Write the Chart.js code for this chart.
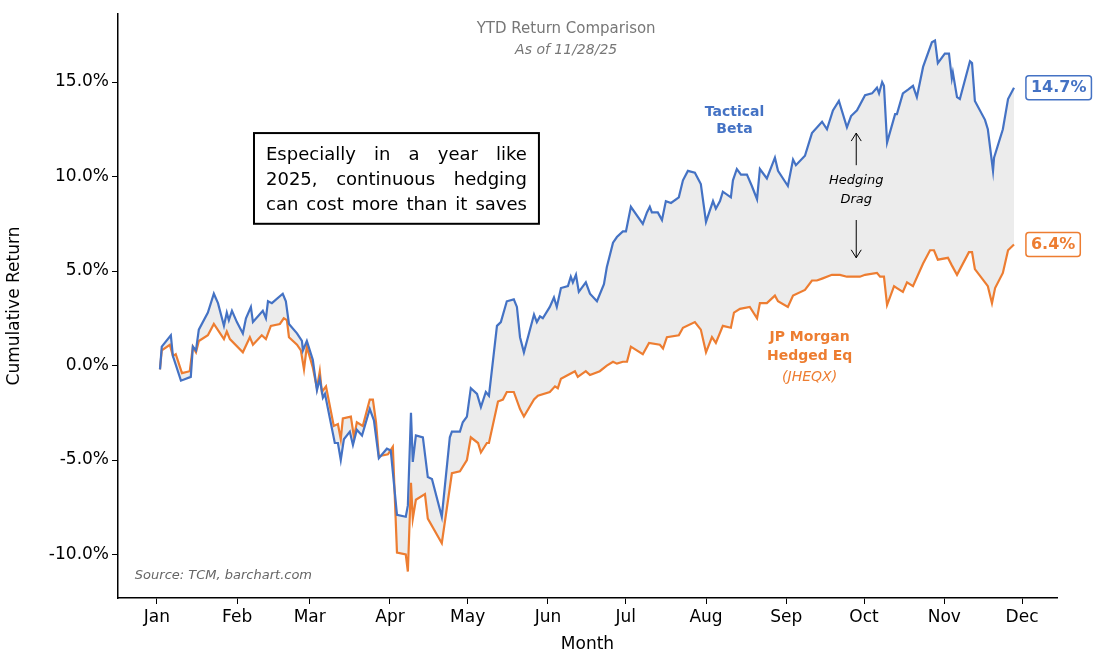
<!DOCTYPE html>
<html>
<head>
  <title>YTD Return Comparison</title>
  <script src="https://cdn.jsdelivr.net/npm/chart.js"></script>
</head>
<body style="margin:0; background:white;">
  <canvas id="c" width="1105" height="659"></canvas>
  <script>
    // day of year (Jan 1 = 0) and cumulative return in %
    const betaDays = [1.2,1.9,5.4,6.2,9.3,13.1,13.9,15.1,16.2,19.7,22.0,23.6,25.9,27.0,27.8,29.0,30.9,33.2,34.4,36.3,37.1,40.9,42.1,42.9,44.4,48.6,49.8,51.0,54.1,56.0,56.4,57.9,60.2,61.8,62.9,64.1,64.9,68.7,69.9,71.0,72.2,74.5,75.7,77.2,79.2,82.2,83.8,85.7,88.8,90.3,92.7,96.1,96.9,98.1,98.8,100.0,102.7,104.6,106.2,110.0,113.1,113.9,117.0,118.1,119.7,121.2,123.6,125.1,127.0,128.2,131.3,132.8,135.1,137.8,139.0,140.2,141.7,145.6,146.7,147.9,149.0,151.7,153.3,154.4,156.0,158.7,159.8,160.6,161.8,162.9,165.6,167.2,169.9,172.6,173.7,176.1,177.6,179.9,181.1,183.0,187.6,189.2,190.3,191.1,193.4,195.0,196.5,198.5,201.5,203.1,205.0,207.7,210.0,212.0,214.7,215.8,217.4,218.5,221.6,222.4,223.9,225.5,227.8,229.7,231.7,232.8,235.5,238.6,239.8,243.6,245.6,246.7,250.2,252.9,256.8,258.7,261.0,263.3,266.4,268.0,270.3,273.4,276.1,278.0,278.8,280.0,280.7,281.9,285.0,285.7,288.0,290.0,291.9,293.4,295.8,299.2,300.4,301.5,304.2,305.8,306.9,307.3,308.9,310.0,313.9,314.7,315.8,319.7,320.8,322.8,323.2,326.6,328.6,330.9];
    const betaValues = [-0.2,1.0,1.6,0.5,-0.8,-0.6,1.0,0.8,1.9,2.8,3.8,3.3,2.1,2.8,2.4,2.9,2.3,1.7,2.5,3.1,2.3,2.9,2.5,3.4,3.3,3.8,3.4,2.2,1.7,1.3,0.8,1.3,0.3,-1.3,-0.7,-1.7,-1.5,-4.1,-4.1,-5.0,-3.9,-3.5,-4.2,-3.4,-3.7,-2.3,-2.9,-4.9,-4.4,-4.5,-7.9,-8.0,-7.4,-2.5,-5.1,-3.7,-3.8,-5.9,-6.0,-8.0,-3.8,-3.5,-3.5,-3.0,-2.7,-1.2,-1.5,-2.2,-1.4,-1.6,2.1,2.3,3.4,3.5,3.1,1.5,0.7,2.7,2.3,2.6,2.5,3.1,3.6,3.1,4.1,4.2,4.7,4.4,4.8,3.9,4.4,3.8,3.4,4.3,5.2,6.5,6.8,7.1,7.1,8.4,7.5,8.1,8.4,8.1,8.1,7.7,8.7,8.6,8.9,9.8,10.3,10.2,9.6,7.6,8.7,8.3,8.7,9.2,8.9,9.8,10.4,10.1,10.1,9.5,8.8,10.4,9.9,11.0,10.3,9.5,10.9,10.6,11.1,12.3,12.9,12.5,13.5,14.0,12.6,13.2,13.5,14.3,14.4,14.7,14.4,15.0,14.8,11.8,13.3,13.3,14.4,14.6,14.8,14.2,15.8,17.1,17.2,16.0,16.5,16.5,15.2,15.5,14.2,14.1,16.1,16.0,14.0,13.0,12.5,10.3,11.0,12.5,14.1,14.7];

    const hedgedDays = [1.2,1.9,5.0,6.2,7.3,9.7,12.7,13.9,15.1,16.2,19.7,22.0,25.9,27.0,28.2,33.2,35.9,37.1,40.5,42.1,44.0,47.5,49.0,50.2,51.0,54.1,55.6,56.8,57.9,60.2,61.8,62.9,63.7,65.3,68.3,69.9,71.0,71.8,74.9,76.1,77.2,79.5,82.2,83.4,84.6,85.7,89.2,91.1,92.7,96.1,96.9,98.1,98.8,100.0,103.5,104.6,110.0,113.9,117.0,119.7,121.2,124.0,125.1,127.4,128.2,131.7,133.6,135.1,137.8,140.2,141.7,145.6,147.1,151.7,153.7,154.8,156.0,158.7,161.4,162.5,165.6,167.2,171.0,173.7,176.1,177.6,179.9,181.5,183.0,187.6,190.0,194.2,195.4,196.9,201.5,203.1,207.7,210.0,212.0,214.3,215.8,218.5,221.6,222.8,225.1,228.9,231.7,232.8,235.5,238.6,239.8,243.6,245.6,250.2,252.9,254.8,256.8,260.6,263.7,266.4,271.4,273.4,278.0,279.2,280.7,281.9,284.6,285.7,288.0,289.6,291.9,295.8,298.5,300.0,301.5,305.4,306.9,308.9,313.5,314.7,315.8,319.7,320.8,322.4,323.6,326.6,328.6,330.9];
    const hedgedValues = [-0.2,0.8,1.1,0.5,0.6,-0.4,-0.3,1.0,0.7,1.3,1.6,2.2,1.4,1.8,1.4,0.7,1.5,1.1,1.6,1.4,2.1,2.2,2.5,2.4,1.5,1.1,0.8,-0.2,1.0,-0.1,-1.2,-0.3,-1.4,-1.1,-3.2,-3.1,-3.9,-2.8,-2.7,-3.8,-3.0,-3.2,-1.8,-1.8,-3.0,-4.8,-4.7,-4.3,-9.9,-10.0,-10.9,-6.2,-8.1,-7.1,-6.8,-8.1,-9.4,-5.7,-5.6,-5.0,-3.8,-4.1,-4.6,-4.1,-4.1,-1.9,-1.8,-1.4,-1.4,-2.3,-2.7,-1.8,-1.6,-1.4,-1.1,-1.2,-0.7,-0.5,-0.3,-0.6,-0.3,-0.5,-0.3,0.0,0.2,0.1,0.2,0.2,1.0,0.6,1.2,1.1,0.9,1.5,1.6,2.0,2.3,1.9,0.7,1.5,1.2,2.1,2.0,2.8,3.0,3.1,2.5,3.3,3.3,3.7,3.4,3.1,3.7,4.0,4.5,4.5,4.6,4.8,4.8,4.7,4.7,4.8,4.9,4.7,4.7,3.2,4.2,4.1,3.9,4.4,4.2,5.4,6.1,6.1,5.6,5.7,5.3,4.8,6.0,6.0,5.1,4.4,4.2,3.3,4.1,4.9,6.1,6.4];

    const monthLabels = ['Jan','Feb','Mar','Apr','May','Jun','Jul','Aug','Sep','Oct','Nov','Dec'];
    const monthStarts = [0,31,59,90,120,151,181,212,243,273,304,334];
    const yTicks = [-10,-5,0,5,10,15];

    const BLUE = '#4472c4', ORANGE = '#ed7d31';
    const toPts = (d, v) => d.map((x, i) => ({ x: x, y: v[i] }));

    function text(ctx, s, x, y, font, color, align) {
      ctx.font = font; ctx.fillStyle = color;
      ctx.textAlign = align || 'center'; ctx.textBaseline = 'middle';
      ctx.fillText(s, x, y);
    }
    function roundBox(ctx, x, y, w, h, r, color) {
      ctx.beginPath(); ctx.roundRect(x, y, w, h, r);
      ctx.fillStyle = 'white'; ctx.fill();
      ctx.strokeStyle = color; ctx.lineWidth = 1.5; ctx.stroke();
    }
    function arrow(ctx, x, y1, y2) {
      const dir = y2 > y1 ? 1 : -1;
      ctx.strokeStyle = '#000'; ctx.lineWidth = 1;
      ctx.beginPath(); ctx.moveTo(x, y1); ctx.lineTo(x, y2);
      ctx.moveTo(x - 5, y2 - dir * 8); ctx.lineTo(x, y2); ctx.lineTo(x + 5, y2 - dir * 8);
      ctx.stroke();
    }

    const notes = {
      id: 'notes',
      afterDatasetsDraw(chart) {
        const ctx = chart.ctx, xs = chart.scales.x, ys = chart.scales.y;
        const X = d => xs.getPixelForValue(d), Y = v => ys.getPixelForValue(v);
        ctx.save();
        text(ctx, 'YTD Return Comparison', X(158), Y(17.8), '15px "DejaVu Sans"', '#777');
        text(ctx, 'As of 11/28/25', X(158), Y(16.7), 'italic 14px "DejaVu Sans"', '#777');

        // message box, justified lines
        const bx = X(37.5), by = Y(12.3), bw = X(147.5) - bx, bh = Y(7.5) - by;
        ctx.fillStyle = 'white'; ctx.fillRect(bx, by, bw, bh);
        ctx.strokeStyle = '#000'; ctx.lineWidth = 2; ctx.strokeRect(bx, by, bw, bh);
        ctx.font = '18px "DejaVu Sans"'; ctx.fillStyle = '#000';
        ctx.textBaseline = 'middle'; ctx.textAlign = 'left';
        const lines = [['Especially','in','a','year','like'], ['2025,','continuous','hedging'], ['can','cost','more','than','it','saves']];
        lines.forEach((ws, i) => {
          const ly = by + 22 + i * 25;
          const tw = ws.reduce((s, w) => s + ctx.measureText(w).width, 0);
          const gap = (bw - 24 - tw) / (ws.length - 1);
          let cx = bx + 12;
          ws.forEach(w => { ctx.fillText(w, cx, ly); cx += ctx.measureText(w).width + gap; });
        });

        text(ctx, 'Tactical', X(223), Y(13.4), 'bold 14px "DejaVu Sans"', BLUE);
        text(ctx, 'Beta', X(223), Y(12.5), 'bold 14px "DejaVu Sans"', BLUE);
        text(ctx, 'JP Morgan', X(252), Y(1.5), 'bold 14px "DejaVu Sans"', ORANGE);
        text(ctx, 'Hedged Eq', X(252), Y(0.5), 'bold 14px "DejaVu Sans"', ORANGE);
        text(ctx, '(JHEQX)', X(252), Y(-0.6), 'italic 14px "DejaVu Sans"', ORANGE);

        text(ctx, 'Hedging', X(270), Y(9.8), 'italic 13px "DejaVu Sans"', '#000');
        text(ctx, 'Drag', X(270), Y(8.8), 'italic 13px "DejaVu Sans"', '#000');
        arrow(ctx, X(270), Y(10.6), Y(12.3));
        arrow(ctx, X(270), Y(7.7), Y(5.7));

        text(ctx, 'Source: TCM, barchart.com', X(-8.5), Y(-11.1), 'italic 13px "DejaVu Sans"', '#666', 'left');

        // end value labels
        const ex = X(335.5);
        [[betaValues, BLUE], [hedgedValues, ORANGE]].forEach(([v, col]) => {
          const last = v[v.length - 1], s = last.toFixed(1) + '%';
          ctx.font = 'bold 16px "DejaVu Sans"';
          const w = ctx.measureText(s).width + 10;
          roundBox(ctx, ex, Y(last) - 12, w, 24, 3, col);
          text(ctx, s, ex + 5, Y(last), 'bold 16px "DejaVu Sans"', col, 'left');
        });
        ctx.restore();
      }
    };

    new Chart(document.getElementById('c'), {
      type: 'line',
      data: {
        datasets: [
          { label: 'Tactical Beta', data: toPts(betaDays, betaValues), borderColor: BLUE, borderWidth: 2.2,
            pointRadius: 0, tension: 0, fill: false },
          { label: 'JP Morgan Hedged Eq', data: toPts(hedgedDays, hedgedValues), borderColor: ORANGE, borderWidth: 2.2,
            pointRadius: 0, tension: 0, fill: { target: 0, above: '#ececec', below: '#ececec' } }
        ]
      },
      options: {
        responsive: false, animation: false,
        devicePixelRatio: 1,
        layout: { padding: { top: 14, right: 48, left: 0, bottom: 0 } },
        plugins: { legend: { display: false }, tooltip: { enabled: false } },
        scales: {
          x: {
            type: 'linear', min: -15, max: 347.5,
            grid: { drawOnChartArea: false, drawTicks: true, tickLength: 6, color: '#000' },
            border: { color: '#000', width: 1.5 },
            afterBuildTicks: s => { s.ticks = monthStarts.map(v => ({ value: v })); },
            ticks: { autoSkip: false, maxRotation: 0, color: '#000', font: { family: 'DejaVu Sans', size: 17 },
              callback: v => monthLabels[monthStarts.indexOf(v)] },
            title: { display: true, text: 'Month', color: '#000', font: { family: 'DejaVu Sans', size: 17 }, padding: { top: 0 } },
            afterFit: s => { s.height = 61; }
          },
          y: {
            min: -12.3, max: 18.6,
            grid: { drawOnChartArea: false, drawTicks: true, tickLength: 6, color: '#000' },
            border: { color: '#000', width: 1.5 },
            afterBuildTicks: s => { s.ticks = yTicks.map(v => ({ value: v })); },
            ticks: { color: '#000', font: { family: 'DejaVu Sans', size: 17 }, callback: v => v.toFixed(1) + '%' },
            title: { display: true, text: 'Cumulative Return', color: '#000', font: { family: 'DejaVu Sans', size: 17 } },
            afterFit: s => { s.width = 118; }
          }
        }
      },
      plugins: [notes]
    });
  </script>
</body>
</html>
